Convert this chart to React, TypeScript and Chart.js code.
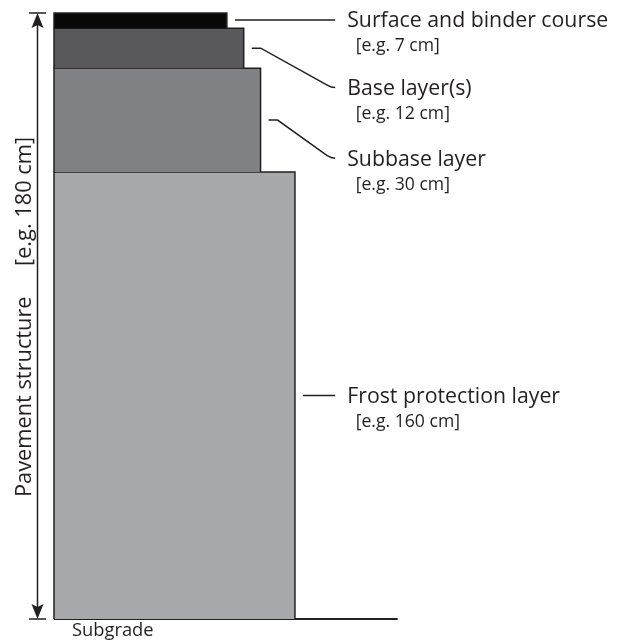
import { useEffect, useRef } from 'react';
import { Chart, registerables } from 'chart.js';

Chart.register(...registerables);

// ---- data (schematic pavement cross-section) ----
const layerNames = ['Surface and binder course', 'Base layer(s)', 'Subbase layer', 'Frost protection layer'];
const layerExamples = ['[e.g. 7 cm]', '[e.g. 12 cm]', '[e.g. 30 cm]', '[e.g. 160 cm]'];
// schematic thickness of each layer (drawing depth units, total 200)
const layerThickness = [5, 13.2, 34.3, 147.5];
// schematic width of each layer (percent of the ground line)
const layerWidth = [50.3, 55.2, 60.1, 70.1];
const layerColors = ['#080808', '#59595b', '#808184', '#a7a8ab'];
// depth at which each label's leader line ends
const labelDepth = [2.3, 24.6, 47.9, 126.2];
const structureTitle = 'Pavement structure';
const structureExample = '[e.g. 180 cm]';
const subgradeLabel = 'Subgrade';
const groundExtent = 100;

const INK = '#231f20';
const FONT = '"Open Sans", "DejaVu Sans", sans-serif';
const SX = 0.99;

function drawText(ctx: CanvasRenderingContext2D, text: string, x: number, y: number, size: number) {
  ctx.save();
  ctx.font = `${size}px ${FONT}`;
  ctx.fillStyle = INK;
  ctx.textBaseline = 'alphabetic';
  ctx.textAlign = 'left';
  ctx.translate(x, y);
  ctx.scale(SX, 1);
  ctx.fillText(text, 0, 0);
  ctx.restore();
}

function drawVertical(ctx: CanvasRenderingContext2D, text: string, x: number, y: number, size: number) {
  ctx.save();
  ctx.font = `${size}px ${FONT}`;
  ctx.fillStyle = INK;
  ctx.textBaseline = 'alphabetic';
  ctx.textAlign = 'left';
  ctx.translate(x, y);
  ctx.rotate(-Math.PI / 2);
  ctx.scale(SX, 1);
  ctx.fillText(text, 0, 0);
  ctx.restore();
}

const annotationPlugin = {
  id: 'pavementAnnotations',
  afterDraw(chart: any) {
    const ctx: CanvasRenderingContext2D = chart.ctx;
    const xs = chart.scales.x;
    const ys = chart.scales.y;
    const area = chart.chartArea;
    const total = layerThickness.reduce((a, b) => a + b, 0);
    const yTop = ys.getPixelForValue(0);
    const yBot = ys.getPixelForValue(total);

    // dimension arrow
    const ax = area.left - 16.5;
    ctx.save();
    ctx.strokeStyle = INK;
    ctx.fillStyle = INK;
    ctx.lineWidth = 1.5;
    ctx.beginPath();
    ctx.moveTo(ax, yTop + 8);
    ctx.lineTo(ax, yBot - 8);
    ctx.stroke();
    ctx.beginPath();
    ctx.moveTo(ax - 8.5, yTop);
    ctx.lineTo(ax + 8.5, yTop);
    ctx.moveTo(ax - 8.5, yBot);
    ctx.lineTo(ax + 8.5, yBot);
    ctx.stroke();
    ctx.beginPath();
    ctx.moveTo(ax, yTop);
    ctx.lineTo(ax - 6, yTop + 15);
    ctx.lineTo(ax, yTop + 12);
    ctx.lineTo(ax + 6, yTop + 15);
    ctx.closePath();
    ctx.fill();
    ctx.beginPath();
    ctx.moveTo(ax, yBot);
    ctx.lineTo(ax - 6, yBot - 15);
    ctx.lineTo(ax, yBot - 12);
    ctx.lineTo(ax + 6, yBot - 15);
    ctx.closePath();
    ctx.fill();
    ctx.restore();

    // vertical title
    drawVertical(ctx, structureTitle, 30.5, 497, 22);
    drawVertical(ctx, structureExample, 30.5, 266, 22);

    // leaders and labels
    const labelX = area.right - 50.5;
    let top = 0;
    layerNames.forEach((name, i) => {
      const bottom = top + layerThickness[i];
      const midPx = ys.getPixelForValue((top + bottom) / 2);
      const rightPx = xs.getPixelForValue(layerWidth[i]);
      const lblPx = ys.getPixelForValue(labelDepth[i]);
      const endX = labelX - 12;
      ctx.save();
      ctx.strokeStyle = INK;
      ctx.lineWidth = 1.5;
      ctx.beginPath();
      if (Math.abs(lblPx - midPx) < 3) {
        ctx.moveTo(rightPx + 8, lblPx);
        ctx.lineTo(endX, lblPx);
      } else {
        ctx.moveTo(rightPx + 8, midPx);
        ctx.lineTo(rightPx + 17, midPx);
        ctx.lineTo(endX - 8, lblPx - 2.5);
        ctx.quadraticCurveTo(endX - 4, lblPx, endX, lblPx);
      }
      ctx.stroke();
      ctx.restore();
      drawText(ctx, name, labelX, lblPx + 7.5, 21.5);
      drawText(ctx, layerExamples[i], labelX + 8.5, lblPx + 31.5, 17.8);
      top = bottom;
    });

    drawText(ctx, subgradeLabel, area.left + 18, yBot + 17, 18.5);
  },
};

export default function App() {
  const ref = useRef<HTMLCanvasElement>(null);
  useEffect(() => {
    if (!ref.current) return;
    const total = layerThickness.reduce((a, b) => a + b, 0);
    const datasets: any[] = [];
    let top = 0;
    layerNames.forEach((name, i) => {
      const bottom = top + layerThickness[i];
      datasets.push({
        label: name,
        data: [
          { x: 0, y: bottom },
          { x: 0, y: top },
          { x: layerWidth[i], y: top },
          { x: layerWidth[i], y: bottom },
        ],
        showLine: true,
        fill: { value: bottom },
        backgroundColor: layerColors[i],
        borderColor: INK,
        borderWidth: 1.5,
        pointRadius: 0,
        tension: 0,
        clip: false,
      });
      top = bottom;
    });
    datasets.push({
      label: 'Subgrade',
      data: [
        { x: 0, y: total },
        { x: groundExtent, y: total },
      ],
      showLine: true,
      fill: false,
      borderColor: INK,
      borderWidth: 2,
      pointRadius: 0,
      clip: false,
    });

    const chart = new Chart(ref.current, {
      type: 'scatter',
      data: { datasets },
      options: {
        animation: false,
        responsive: true,
        maintainAspectRatio: false,
        layout: { padding: { left: 54, right: 225.3, top: 13, bottom: 22 } },
        scales: {
          x: { type: 'linear', min: 0, max: groundExtent, display: false },
          y: { type: 'linear', min: 0, max: total, reverse: true, display: false },
        },
        plugins: { legend: { display: false }, tooltip: { enabled: false } },
      },
      plugins: [annotationPlugin],
    });
    return () => chart.destroy();
  }, []);

  return (
    <div style={{ position: 'fixed', left: 0, top: 0, width: 623, height: 641, background: '#ffffff' }}>
      <canvas ref={ref} />
    </div>
  );
}
